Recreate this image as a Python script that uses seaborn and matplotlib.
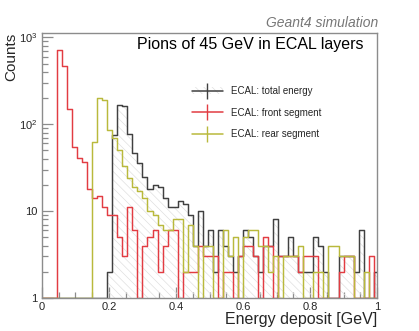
import numpy as np
import pandas as pd
import matplotlib
matplotlib.use("Agg")
import matplotlib.pyplot as plt
import seaborn as sns
from matplotlib.lines import Line2D
from matplotlib.patches import Patch
from matplotlib.ticker import FixedLocator, MultipleLocator

# ---------------- data ----------------
bin_width = 0.015          # GeV
n_bins = 67

total_energy = [1, 1, 1, 1, 1, 1, 1, 1, 1, 1, 1, 1, 1,
                2, 75, 168, 160, 78, 47, 36, 25, 18, 20, 19, 14, 11,
                11, 13, 12, 9, 4, 10, 4, 6, 2, 6, 4, 3, 2, 3, 6, 5, 3, 2, 4, 4,
                8, 3, 3, 5, 3, 2, 2, 2, 5, 4, 2, 1, 1, 3, 3, 3, 2, 6, 1, 1, 2]

front_segment = [1, 1, 1,
                 720, 464, 149, 55, 41, 37, 18, 14, 15, 11, 9, 9, 5, 3, 11, 6, 1,
                 4, 5, 6, 2, 4, 6, 6, 1, 2, 2, 2, 4, 3, 3, 3, 1, 2, 2, 1, 3,
                 4, 4, 3, 1, 5, 4, 1, 3, 3, 3, 3, 2, 3, 3, 3, 1, 1, 1, 1, 2,
                 3, 3, 1, 1, 1, 3, 1]

rear_segment = [1, 1, 1, 1, 1, 1, 1, 1, 1, 1,
                63, 200, 190, 85, 70, 50, 33, 24, 19, 17, 14, 10, 9, 7, 6, 6,
                8, 8, 2, 7, 4, 1, 4, 4, 1, 1, 6, 3, 5, 1, 5, 6, 6, 4, 4, 2,
                3, 1, 3, 3, 3, 4, 1, 1, 2, 2, 1, 4, 4, 3, 3, 3, 1, 1, 2, 1, 1]

series_names = ["ECAL: total energy", "ECAL: front segment", "ECAL: rear segment"]
y_ticks = [1, 10, 100, 1000]
y_tick_labels = ["1", "10", r"$10^{2}$", r"$10^{3}$"]
x_ticks = [0, 0.2, 0.4, 0.6, 0.8, 1.0]
x_tick_labels = ["0", "0.2", "0.4", "0.6", "0.8", "1"]

edges = [round(i * bin_width, 4) for i in range(n_bins + 1)]
centers = [(edges[i] + edges[i + 1]) / 2 for i in range(n_bins)]

df = pd.DataFrame({
    "center": np.tile(centers, 3),
    "count": np.concatenate([total_energy, front_segment, rear_segment]).astype(float),
    "series": np.repeat(series_names, n_bins),
})

# ---------------- style ----------------
sns.set_style("ticks")
plt.rcParams["font.family"] = ["Liberation Sans", "DejaVu Sans"]
plt.rcParams["mathtext.fontset"] = "custom"
plt.rcParams["mathtext.rm"] = "Liberation Sans"
plt.rcParams["hatch.linewidth"] = 0.5

col_total = "#404040"
col_front = "#e23c42"
col_rear = "#b9b93c"
frame_col = "#8c8c8c"
hatch_col = "#e0e0e0"

fig = plt.figure(figsize=(4.19, 3.31), dpi=100)
ax = fig.add_axes([0.1, 0.1, 0.8, 0.8])

# hatched area under the total-energy histogram
ax.stairs(df.loc[df.series == series_names[0], "count"].values, edges,
          baseline=1, fill=True, facecolor="none", edgecolor=hatch_col,
          hatch="\\\\\\\\", lw=0, zorder=1)

palette = {series_names[0]: col_total, series_names[1]: col_front,
           series_names[2]: col_rear}
for name in series_names:
    sub = df[df.series == name].reset_index(drop=True)
    sns.histplot(data=sub, x="center", weights="count", bins=edges,
                 element="step", fill=False, color=palette[name],
                 linewidth=1.05, ax=ax)

ax.set_yscale("log")
ax.set_xlim(0, 1)
ax.set_ylim(1, 1120)

# ticks (ROOT style: inward, gray)
ax.set_xticks(x_ticks)
ax.set_xticklabels(x_tick_labels)
ax.xaxis.set_minor_locator(MultipleLocator(0.05))
ax.set_yticks(y_ticks)
ax.set_yticklabels(y_tick_labels)
ax.yaxis.set_minor_locator(FixedLocator(
    [m * 10 ** d for d in range(0, 3) for m in range(2, 10)]))
ax.tick_params(axis="both", which="major", direction="in", length=8,
               width=0.9, color=frame_col, labelsize=8, pad=3,
               top=False, right=False)
ax.tick_params(axis="both", which="minor", direction="in", length=4,
               width=0.9, color=frame_col, top=False, right=False)
ax.tick_params(axis="x", which="major", pad=3)
for s in ax.spines.values():
    s.set_color(frame_col)
    s.set_linewidth(1.0)

ax.set_xlabel("Energy deposit [GeV]", fontsize=11.5, loc="right")
ax.xaxis.set_label_coords(1.0, -0.055)
ax.set_ylabel("Counts", fontsize=11, loc="top")
ax.yaxis.set_label_coords(-0.072, 1.0)

ax.text(0.958, 0.958, "Pions of 45 GeV in ECAL layers", transform=ax.transAxes,
        ha="right", va="center", fontsize=11.5, color="black")
fig.text(0.902, 0.93, "Geant4 simulation", ha="right", va="center",
         fontsize=10, style="italic", color="#777777")

h_total = (Patch(facecolor="none", edgecolor=hatch_col, hatch="\\\\\\\\", lw=0),
           Line2D([], [], color=col_total, lw=1.1, marker="|", markersize=12, mew=1.0))
h_front = Line2D([], [], color=col_front, lw=1.1, marker="|", markersize=12, mew=1.0)
h_rear = Line2D([], [], color=col_rear, lw=1.1, marker="|", markersize=12, mew=1.0)
ax.legend([h_total, h_front, h_rear], series_names, loc="upper left",
          bbox_to_anchor=(0.447, 0.8), frameon=False, fontsize=7,
          handlelength=3.2, handletextpad=0.8, labelspacing=1.2,
          borderpad=0, borderaxespad=0, numpoints=1)

fig.savefig("out.png", dpi=100, facecolor="white")
